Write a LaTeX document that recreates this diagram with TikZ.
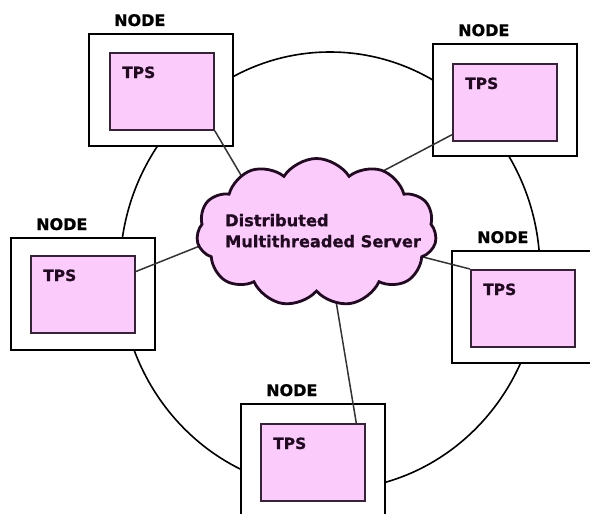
\documentclass[tikz,border=0pt]{standalone}
\usepackage{fontspec}
\setmainfont{DejaVu Sans}[BoldFeatures={FakeBold=0.8}]
\usetikzlibrary{shapes.symbols,calc}

\definecolor{tpspink}{RGB}{251,204,251}
\definecolor{inkline}{RGB}{55,35,55}
\definecolor{inktext}{RGB}{35,10,35}

\tikzset{
  outerbox/.style={draw=black, line width=1.8pt, fill=white,
    minimum width=144pt, minimum height=112pt, anchor=north west, inner sep=0pt},
  tpsbox/.style={draw=inkline, line width=1.8pt, fill=tpspink,
    minimum width=104pt, minimum height=77pt, anchor=north west, inner sep=0pt},
  nodelabel/.style={anchor=base west, inner sep=0pt,
    font=\bfseries\fontsize{16}{18}\selectfont, text=black},
  tpslabel/.style={anchor=base west, inner sep=0pt,
    font=\bfseries\fontsize{15.5}{18}\selectfont, text=inktext},
  link/.style={draw=black!80, line width=1.5pt},
  ring/.style={draw=black, line width=1.6pt},
  servercloud/.style={cloud, cloud puffs=11, cloud puff arc=115,
    draw=inktext, line width=2.8pt, fill=tpspink,
    minimum width=240pt, minimum height=148pt, inner sep=0pt},
}

\begin{document}
\begin{tikzpicture}[x=1pt, y=-1pt]
  \useasboundingbox (0,0) rectangle (590,514);
  \clip (0,0) rectangle (590,514);
  \fill[white] (0,0) rectangle (590,514);

  % ring joining the nodes
  \draw[ring] (330,271) ellipse [x radius=210pt, y radius=219pt];

  % the five nodes, each holding a TPS
  \foreach \n/\ox/\oy/\ix/\iy in {1/88/33/109/52, 2/432/43/452/63,
      3/10/237/30/255, 4/451/250/470/269, 5/240/403/260/423} {
    \node[outerbox] (node\n) at (\ox,\oy) {};
    \node[nodelabel] (nodelbl\n) at ($(node\n.north west)+(26,-7)$) {NODE};
    \node[tpsbox] (tps\n) at (\ix,\iy) {};
    \node[tpslabel] (tpslbl\n) at ($(tps\n.north west)+(13,26)$) {TPS};
  }

  % link ends, tucked under the server cloud
  \coordinate (srv1) at (248,187);
  \coordinate (srv2) at (366,180);
  \coordinate (srv3) at (206,243.5);
  \coordinate (srv4) at (417,255.5);
  \coordinate (srv5) at (335.5,298);

  \draw[link] (tps1.south east) -- (srv1);
  \draw[link] ($(tps2.north west)!0.91!(tps2.south west)$) -- (srv2);
  \draw[link] ($(tps3.north east)!0.21!(tps3.south east)$) -- (srv3);
  \draw[link] (tps4.north west) -- (srv4);
  \draw[link] ($(tps5.north west)!0.91!(tps5.north east)$) -- (srv5);

  % central server
  \node[servercloud] (server) at (316.5,232.5) {};
  \node[anchor=north west, inner sep=0pt, align=left,
        font=\bfseries\fontsize{16.2}{21}\selectfont, text=inktext]
        (servertext) at (225,213.7) {Distributed\\Multithreaded Server};
\end{tikzpicture}
\end{document}
